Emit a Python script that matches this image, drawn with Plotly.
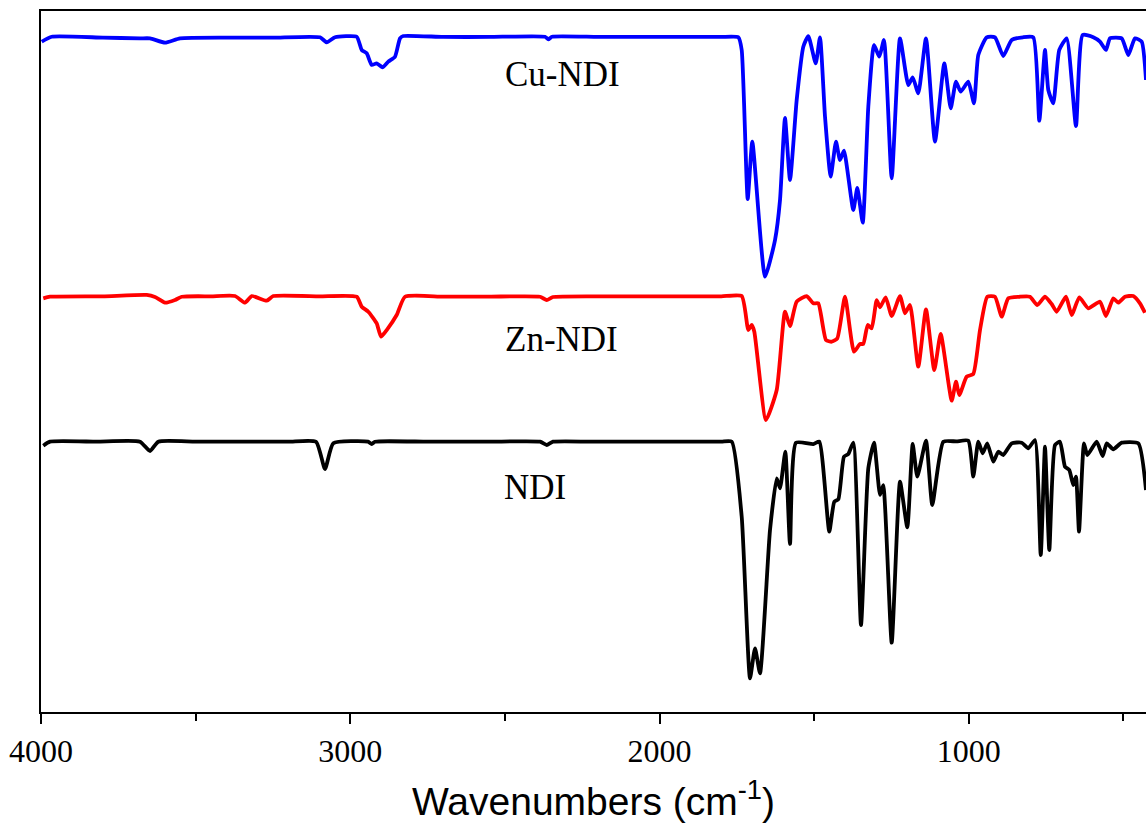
import plotly.graph_objects as go

# ---- Data (wavenumber in cm^-1, transmittance in arbitrary offset units) ----
cu_wn = [3997.7, 3965.4, 3800.0, 3679.9, 3647.5, 3599.0, 3550.5, 3400.0, 3250.0, 3097.9,
         3076.2, 3049.3, 2979.2, 2963.0, 2946.8, 2930.7, 2914.5, 2895.1, 2877.0, 2855.3,
         2839.2, 2828.5, 2700.0, 2550.0, 2370.3, 2359.6, 2347.6, 2200.0, 2050.0, 1900.0,
         1800.0, 1745.3, 1734.3, 1714.9, 1700.0, 1658.9, 1626.6, 1610.4, 1594.3,
         1578.1, 1556.5, 1535.1, 1518.9, 1495.0, 1481.1, 1464.9, 1446.6, 1429.4, 1416.5,
         1403.6, 1373.4, 1360.5, 1343.0, 1324.9, 1306.5, 1289.4, 1274.2, 1249.3, 1222.4,
         1195.6, 1181.4, 1163.3, 1138.4, 1109.3, 1079.2, 1058.5, 1041.4, 1026.2, 1001.6,
         983.2, 969.3, 942.2, 915.3, 888.5, 861.3, 825.0, 791.4, 772.0, 753.6, 742.9,
         726.8, 707.4, 683.5, 653.4, 631.8, 597.5, 575.8, 556.4, 543.5, 505.6,
         484.3, 462.6, 441.0, 427.0]
cu_t = [95.62, 96.33, 96.20, 96.10, 96.10, 95.48, 96.10, 96.20, 96.20, 96.25,
        95.53, 96.25, 96.33, 94.44, 93.97, 92.30, 92.54, 91.97, 92.77, 93.48,
        96.10, 96.43, 96.30, 96.30, 96.33, 95.96, 96.33, 96.30, 96.30, 96.30,
        96.30, 96.25, 94.44, 73.18, 81.36, 62.10, 67.33, 73.04, 84.74,
        75.89, 87.30, 94.91, 96.43, 92.54, 96.25, 84.92, 76.36, 81.36, 78.74,
        80.07, 71.61, 74.75, 69.80, 86.35, 95.15, 93.48, 95.86, 76.13, 96.10,
        89.44, 90.54, 88.26, 96.10, 81.36, 92.54, 86.12, 89.91, 88.49, 89.91,
        86.83, 93.72, 96.25, 96.25, 93.58, 95.86, 96.25, 96.25, 84.35, 94.44, 88.73,
        86.83, 94.44, 96.10, 83.59, 96.58, 96.25, 95.62, 94.44, 96.10, 96.10,
        93.72, 96.10, 95.62, 90.16]

zn_wn = [3992.6, 3970.9, 3800.0, 3658.2, 3631.4, 3599.0, 3566.7, 3545.0, 3450.0, 3372.7,
         3340.4, 3318.7, 3270.2, 3248.9, 3100.0, 2979.2, 2963.0, 2941.7, 2914.5, 2900.6,
         2882.2, 2849.9, 2823.0, 2700.0, 2550.0, 2386.5, 2364.8, 2344.4, 2200.0, 2050.0,
         1900.0, 1800.0, 1734.3, 1712.9, 1702.0, 1693.5, 1655.7, 1621.1, 1594.3,
         1578.1, 1556.5, 1524.1, 1502.8, 1486.7, 1461.8, 1443.3, 1425.2, 1400.3, 1371.2,
         1351.8, 1341.1, 1326.9, 1314.0, 1297.8, 1287.1, 1268.7, 1249.3, 1222.4, 1206.3,
         1190.1, 1163.3, 1138.4, 1111.6, 1090.9, 1055.3, 1041.4, 1030.7, 1006.8, 985.5,
         963.8, 940.2, 915.3, 893.6, 872.3, 835.0, 802.2, 778.5, 753.6, 732.0, 715.8,
         685.8, 667.3, 642.7, 613.6, 575.8, 556.4, 532.8, 516.6, 495.1, 468.1,
         446.5, 430.4]
zn_t = [59.01, 59.24, 59.30, 59.49, 59.20, 58.39, 58.77, 59.24, 59.30, 59.34,
        58.39, 59.34, 58.67, 59.34, 59.30, 59.24, 57.82, 57.10, 55.45, 53.54,
        54.49, 56.63, 59.24, 59.25, 59.25, 59.24, 58.77, 59.20, 59.30, 59.30,
        59.30, 59.30, 59.34, 54.49, 55.21, 54.25, 41.65, 45.93, 57.10,
        55.06, 58.53, 59.34, 58.30, 58.30, 53.07, 52.82, 53.31, 59.24, 51.40,
        52.50, 52.50, 55.21, 54.74, 58.77, 57.73, 59.16, 56.49, 59.34, 56.88,
        58.06, 49.26, 57.45, 48.79, 53.92, 44.41, 47.12, 45.22, 47.83, 48.22,
        54.49, 59.24, 59.24, 56.39, 59.01, 59.24, 59.24, 58.06, 59.24, 58.20, 57.10,
        59.24, 56.63, 59.16, 57.59, 58.53, 56.49, 59.01, 58.39, 59.24, 59.34,
        58.30, 56.96]

ndi_wn = [3992.6, 3970.9, 3820.0, 3679.9, 3647.5, 3620.7, 3500.0, 3350.0, 3200.0, 3110.8,
          3081.7, 3054.8, 2942.7, 2930.7, 2920.0, 2750.0, 2550.0, 2386.5, 2364.8, 2344.4,
          2200.0, 2050.0, 1900.0, 1800.0, 1766.6, 1734.3, 1707.4, 1691.3, 1675.1, 1642.8,
          1621.1, 1610.4, 1593.3, 1578.1, 1558.7, 1502.8, 1483.4, 1451.1, 1434.9, 1421.9,
          1403.6, 1389.6, 1373.4, 1348.5, 1324.9, 1306.5, 1287.1, 1276.5, 1249.3, 1222.4,
          1198.8, 1181.4, 1166.5, 1138.4, 1118.0, 1082.4, 1040.0, 1001.6, 985.5, 969.3, 955.1,
          940.2, 920.8, 904.6, 888.5, 861.3, 828.9, 807.6, 785.9, 767.4, 753.6,
          739.6, 721.2, 705.0, 688.9, 675.0, 662.1, 653.4, 643.6, 627.5, 616.7,
          586.4, 567.0, 554.0, 532.8, 505.6, 451.8, 427.0]
ndi_t = [37.99, 38.56, 38.56, 38.56, 37.23, 38.56, 38.56, 38.56, 38.56, 38.56,
         34.66, 38.33, 38.56, 38.23, 38.56, 38.56, 38.56, 38.56, 38.09, 38.56,
         38.56, 38.56, 38.56, 38.56, 38.56, 27.86, 4.81, 9.09, 5.52, 25.96,
         33.34, 31.91, 37.13, 23.97, 38.42, 38.23, 38.56, 25.72, 30.00, 30.34,
         36.42, 36.80, 38.42, 12.41, 34.76, 38.42, 30.96, 32.38, 9.89, 32.85,
         26.35, 38.23, 33.57, 38.70, 29.53, 38.56, 38.60, 38.70, 33.57, 38.56, 36.90,
         38.33, 35.71, 37.13, 36.66, 38.33, 38.42, 37.62, 38.80, 22.40, 37.85,
         23.11, 38.09, 38.56, 34.99, 34.52, 32.38, 33.57, 25.72, 38.33, 36.66,
         38.56, 36.52, 38.33, 37.48, 38.42, 38.33, 31.67]

labels = ["Cu-NDI", "Zn-NDI", "NDI"]
tick_vals = [4000, 3000, 2000, 1000]
tick_text = ["4000", "3000", "2000", "1000"]

serif = "Liberation Serif"
sans = "Liberation Sans"

fig = go.Figure()
for wn, t, col, name in [(cu_wn, cu_t, "#0000ff", labels[0]),
                         (zn_wn, zn_t, "#ff0000", labels[1]),
                         (ndi_wn, ndi_t, "#000000", labels[2])]:
    fig.add_trace(go.Scatter(x=wn, y=t, mode="lines", name=name,
                             line=dict(color=col, width=3.8, shape="spline", smoothing=0.5),
                             showlegend=False, hoverinfo="skip"))

for name, xv, yv in [(labels[0], 2315, 90.9), (labels[1], 2318, 53.1), (labels[2], 2402, 32.0)]:
    fig.add_annotation(x=xv, y=yv, text=name, showarrow=False,
                       font=dict(family=serif, size=35, color="black"),
                       xanchor="center", yanchor="middle")

fig.update_layout(
    width=1146, height=823,
    margin=dict(l=41, r=0, t=11, b=111),
    paper_bgcolor="white", plot_bgcolor="white",
    font=dict(family=serif, size=30, color="black"),
    xaxis=dict(range=[4000, 427], tickmode="array", tickvals=tick_vals, ticktext=tick_text,
               ticks="outside", ticklen=10, tickwidth=2, tickcolor="black",
               minor=dict(dtick=500, tick0=0, ticks="outside", ticklen=7, tickwidth=2, tickcolor="black"),
               showline=True, linecolor="black", linewidth=2, mirror=True,
               showgrid=False, zeroline=False,
               tickfont=dict(family=serif, size=32, color="black"),
               title=dict(text="Wavenumbers (cm<sup>-1</sup>)", standoff=23,
                          font=dict(family=sans, size=39, color="black"))),
    yaxis=dict(range=[0, 100], showticklabels=False, ticks="", showgrid=False,
               zeroline=False, showline=True, linecolor="black", linewidth=2),
)

fig.write_html("out.html", config={"displayModeBar": False},
               post_script="document.body.style.margin='0';document.body.style.overflow='hidden';")
